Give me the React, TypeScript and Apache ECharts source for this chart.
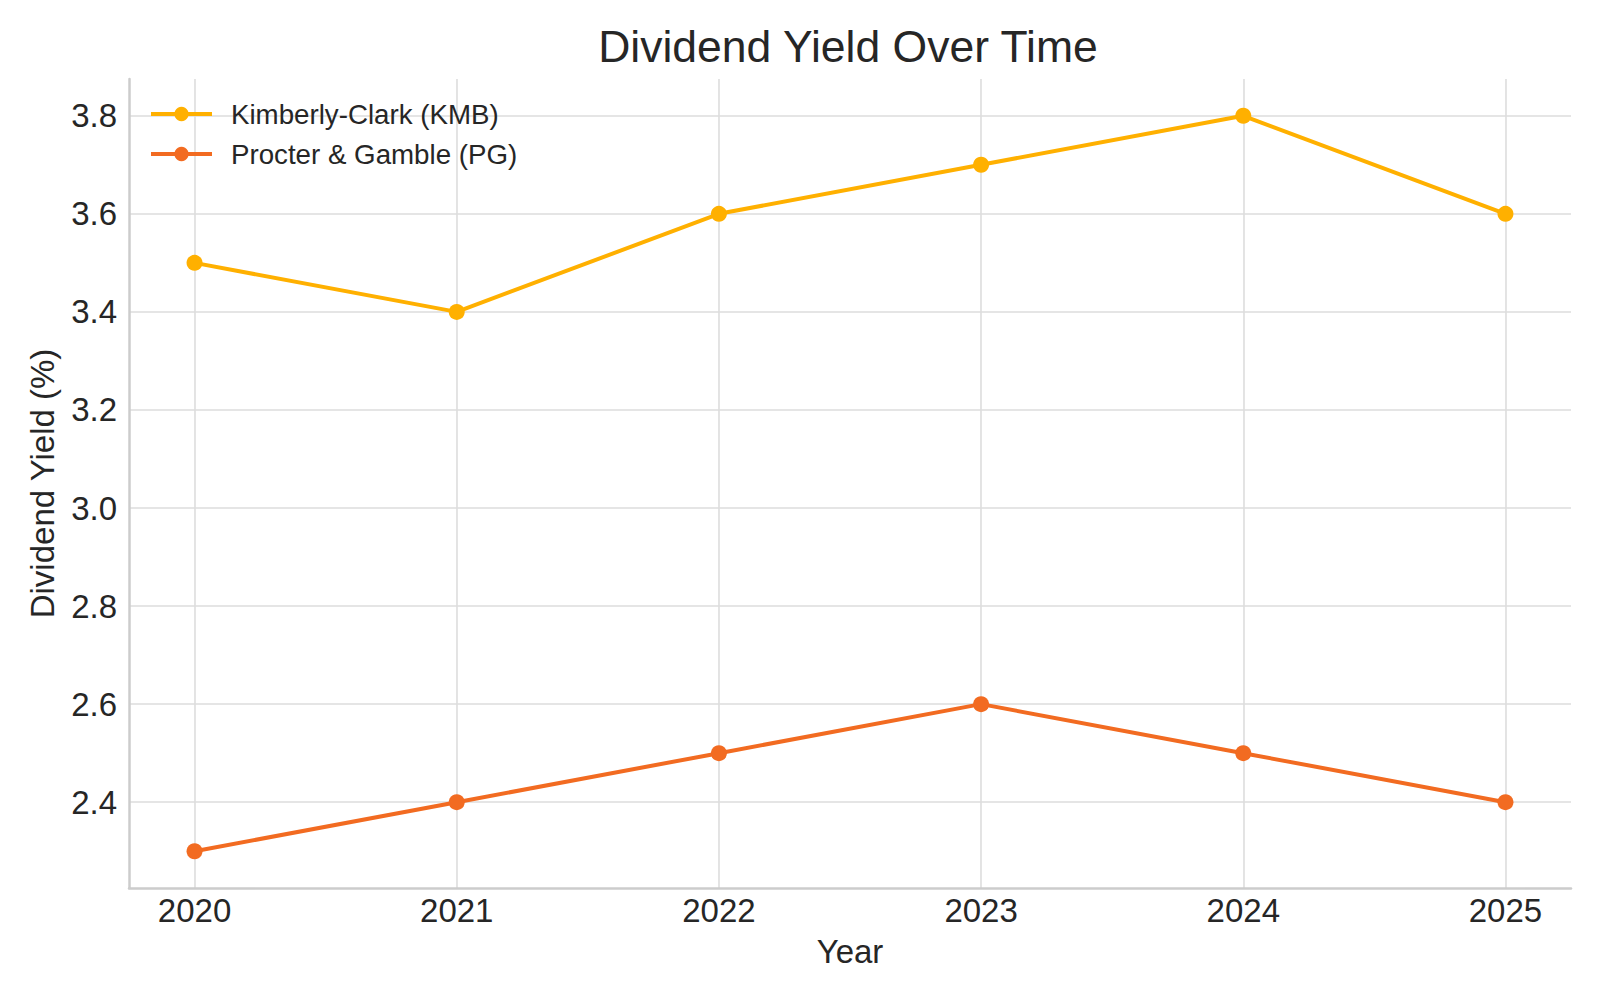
import { useEffect, useRef } from "react";
import * as echarts from "echarts";

const years = [2020, 2021, 2022, 2023, 2024, 2025];
const kmbYield = [3.5, 3.4, 3.6, 3.7, 3.8, 3.6];
const pgYield = [2.3, 2.4, 2.5, 2.6, 2.5, 2.4];
const yTicks = [2.4, 2.6, 2.8, 3.0, 3.2, 3.4, 3.6, 3.8];

const FONT = "Liberation Sans, Arial, sans-serif";
const TEXT = "#262626";
const KMB_COLOR = "#FFB000";
const PG_COLOR = "#F26B21";

export default function App() {
  const chartRef = useRef<HTMLDivElement>(null);

  useEffect(() => {
    if (!chartRef.current) return;
    const chart = echarts.init(chartRef.current, undefined, { renderer: "svg" });

    const toPairs = (vals: number[]) => years.map((y, i) => [y, vals[i]]);

    const option = {
      animation: false,
      backgroundColor: "#ffffff",
      textStyle: { fontFamily: FONT, color: TEXT },
      title: {
        text: "Dividend Yield Over Time",
        left: 843,
        top: 19,
        textAlign: "center",
        textStyle: { fontSize: 44.5, fontWeight: "normal", color: TEXT, fontFamily: FONT },
      },
      legend: {
        orient: "vertical",
        left: 144,
        top: 95,
        itemWidth: 61,
        itemHeight: 18,
        itemGap: 12,
        textStyle: { fontSize: 27.7, color: TEXT, fontFamily: FONT, padding: [0, 0, 0, 14] },
        data: [
          {
            name: "Kimberly-Clark (KMB)",
            itemStyle: { color: KMB_COLOR },
            lineStyle: { color: KMB_COLOR, width: 4 },
          },
          {
            name: "Procter & Gamble (PG)",
            itemStyle: { color: PG_COLOR },
            lineStyle: { color: PG_COLOR, width: 4 },
          },
        ],
      },
      grid: { left: 129, right: 29, top: 79, bottom: 112 },
      xAxis: {
        type: "value",
        min: 2019.75,
        max: 2025.25,
        name: "Year",
        nameLocation: "middle",
        nameGap: 47,
        nameTextStyle: { fontSize: 33, color: TEXT, fontFamily: FONT },
        axisLine: { show: true, lineStyle: { color: "#cccccc", width: 2.5 } },
        axisTick: { show: false, customValues: years },
        axisLabel: {
          customValues: years,
          fontSize: 33,
          color: TEXT,
          margin: 6,
          formatter: (v: number) => String(v),
        },
        splitLine: { show: true, lineStyle: { color: "#dddddd", width: 1.6 } },
      },
      yAxis: {
        type: "value",
        min: 2.225,
        max: 3.875,
        name: "Dividend Yield (%)",
        nameLocation: "middle",
        nameGap: 70,
        nameTextStyle: { fontSize: 33, color: TEXT, fontFamily: FONT },
        axisLine: { show: true, lineStyle: { color: "#cccccc", width: 2.5 } },
        axisTick: { show: false, customValues: yTicks },
        axisLabel: {
          customValues: yTicks,
          fontSize: 33,
          color: TEXT,
          margin: 12,
          formatter: (v: number) => v.toFixed(1),
        },
        splitLine: { show: true, lineStyle: { color: "#dddddd", width: 1.6 } },
      },
      series: [
        {
          name: "Kimberly-Clark (KMB)",
          type: "line",
          data: toPairs(kmbYield),
          symbol: "circle",
          symbolSize: 16,
          itemStyle: { color: KMB_COLOR },
          lineStyle: { color: KMB_COLOR, width: 4 },
        },
        {
          name: "Procter & Gamble (PG)",
          type: "line",
          data: toPairs(pgYield),
          symbol: "circle",
          symbolSize: 16,
          itemStyle: { color: PG_COLOR },
          lineStyle: { color: PG_COLOR, width: 4 },
        },
      ],
    };

    chart.setOption(option);
    return () => chart.dispose();
  }, []);

  return (
    <div
      ref={chartRef}
      style={{ position: "absolute", left: 0, top: 0, width: 1600, height: 1000 }}
    />
  );
}
